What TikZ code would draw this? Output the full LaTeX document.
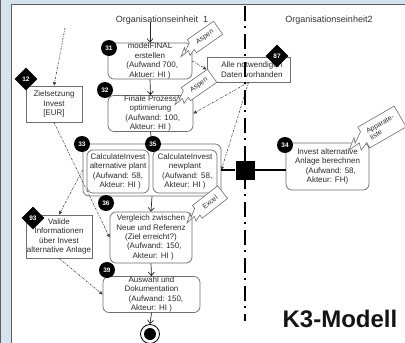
\documentclass[tikz,border=0pt]{standalone}
\usepackage{fontspec}
\setmainfont{Liberation Sans}
\usetikzlibrary{arrows.meta,shapes.geometric}
\definecolor{bgblue}{HTML}{D5E3EC}
\definecolor{txt}{HTML}{2B2B2B}
\definecolor{edge}{HTML}{6E6E6E}
\definecolor{frm}{HTML}{5A5F66}
\newcommand\mycallout[7]{% x y angle L h t text
  \begin{scope}[shift={(#1,#2)}, rotate=#3]
    \draw[callout] ({-#4/2},{-#5}) -- ({#4/2},{-#5}) -- ({#4/2},{#5}) -- ({-#4/2},{#5})
      -- ({-#4/2},{0.5*#5}) -- ({-#4/2-0.45*#6},{0.8*#5}) -- ({-#4/2-0.35*#6},{0.2*#5})
      -- ({-#4/2-#6},{0.3*#5}) -- ({-#4/2-0.45*#6},{-0.4*#5}) -- ({-#4/2-0.55*#6},{0.05*#5})
      -- ({-#4/2},{-0.55*#5}) -- cycle;
  \end{scope}
  \node[callouttext, rotate=#3] at (#1,#2) {#7};}
\begin{document}
\begin{tikzpicture}[x=1pt,y=-1pt,
  box/.style={draw=edge, line width=0.7pt, rounded corners=6pt, inner sep=0pt,
    font=\fontsize{8}{9.4}\selectfont, text=txt, align=center},
  plainbox/.style={draw=edge, line width=0.7pt, inner sep=0pt,
    font=\fontsize{8}{9.6}\selectfont, text=txt, align=center},
  badge/.style={circle, fill=black, minimum size=16pt, inner sep=0pt, text=white,
    font=\fontsize{6.5}{7}\selectfont\bfseries},
  dia/.style={diamond, fill=black, minimum width=23pt, minimum height=23pt, inner sep=0pt,
    text=white, font=\fontsize{6.5}{7}\selectfont\bfseries},
  flow/.style={draw=black!85, line width=0.7pt, -{Straight Barb[length=3.5pt,width=6pt]}},
  info/.style={draw=black!75, line width=0.6pt,
    dash pattern=on 2pt off 1.2pt on 0.6pt off 1.2pt, -{Triangle[length=3.5pt,width=3.2pt]}},
  callout/.style={draw=edge, fill=white, line width=0.6pt, line join=miter},
  callouttext/.style={font=\fontsize{7}{7.8}\selectfont, text=txt, align=left, inner sep=0pt},
  head/.style={font=\fontsize{9}{10}\selectfont, text=black!80, inner sep=0pt},
  lane/.style={draw=black, line width=2pt, dash pattern=on 15pt off 5pt on 2pt off 6pt}
]
\useasboundingbox (0,0) rectangle (405,343);
% frame
\fill[bgblue] (0,0) rectangle (405,343);
\fill[white] (12,5) rectangle (405,343);
\draw[frm, line width=1pt] (0.6,0) -- (0.6,343);
\draw[frm, line width=1.2pt] (11.4,4.4) -- (11.4,343);
\draw[frm, line width=1pt] (11.4,4.4) -- (405,4.4);

% headers
\node[head] (h1) at (162,20) {Organisationseinheit\ \ 1};
\node[head] (h2) at (329,20) {Organisationseinheit2};

% boxes
\node[box, minimum width=84pt, minimum height=36pt] (n31) at (150,61)
  {modelFINAL\\erstellen\\\ \ (Aufwand 700,\\Aktuer: HI )};
\node[box, minimum width=85pt, minimum height=36pt] (n32) at (150.5,113.5)
  {Finale Prozess\\optimierung\\\ \ (Aufwand: 100,\\Akteur: HI )};
\node[box, minimum width=138pt, minimum height=52pt] (grp) at (152,170) {};
\node[box, minimum width=62pt, minimum height=43pt] (n33) at (118,171.5)
  {CalculateInvest\\alternative plant\\(Aufwand: 58,\\\ \ Akteur: HI )};
\node[box, minimum width=64pt, minimum height=43pt] (n35) at (185,171.5)
  {CalculateInvest\\newplant\\\ \ (Aufwand: 58,\\Akteur: HI )};
\node[box, minimum width=82pt, minimum height=51pt] (n36) at (151,237.5)
  {Vergleich zwischen\\Neue und Referenz\\(Ziel erreicht?)\\\ \ \ (Aufwand: 150,\\\ \ Akteur: HI )};
\node[box, minimum width=97pt, minimum height=36pt] (n39) at (151.5,294.5)
  {Auswahl und\\Dokumentation\\\ \ \ \ (Aufwand: 150,\\Akteur: HI )};
\node[box, minimum width=83pt, minimum height=47pt] (n34) at (327.5,166.5)
  {Invest alternative\\Anlage berechnen\\\ \ \ (Aufwand: 58,\\Akteur: FH)};
\node[plainbox, minimum width=56pt, minimum height=36pt] (nZ) at (54,104)
  {Zielsetzung\\Invest\\{[EUR]}};
\node[plainbox, minimum width=66pt, minimum height=43pt] (nV) at (59,236.5)
  {Valide\\Informationen\\über Invest\\alternative Anlage};
\node[plainbox, minimum width=83pt, minimum height=25pt] (alle) at (248.5,69.5)
  {\ \ \ Alle notwendigen\\\ \ \ Daten vorhanden};

% end node
\node[circle, draw=black, line width=0.8pt, minimum size=19pt, inner sep=0pt] (end) at (150,334) {};
\fill[black] (end.center) circle (6pt);

% control flow
\coordinate (c1) at (150,22);
\draw[flow] (c1) -- (n31.north);
\draw[flow] (n31.south) -- (n32.north);
\draw[flow] (n32.south) -- (grp.north);
\draw[flow] (grp.south) -- (n36.north);
\draw[flow] (n36.south) -- (n39.north);
\draw[flow] (n39.south) -- (end.north);

% information flows
\coordinate (cz) at (65,28);
\draw[info] (cz) -- (nZ.north);
\draw[info] (nZ.south) -- (n36.west);
\draw[info] (grp.west) -- (nV.north);
\draw[info] (nV.south) -- (n39.west);
\draw[info] (n31.east) -- (alle.west);
\draw[info] (alle.south) -- (n32.east);
\draw[info] (alle.south) -- (grp.east);

% swim lane
\coordinate (l1) at (245,6);
\coordinate (l2) at (245,321);
\draw[lane] (l1) -- (l2);

% junction
\node[fill=black, minimum size=19pt, inner sep=0pt] (jn) at (245,170) {};
\draw[black, line width=1.6pt] (grp.east) -- (jn.west);
\draw[black, line width=1.6pt] (jn.east) -- (n34.west |- jn);

% callouts
\mycallout{205}{37}{35}{32}{8}{15}{Aspen}
\mycallout{199}{85}{35}{32}{8}{15}{Aspen}
\mycallout{210}{202}{38}{32}{8}{15}{Excel}
\mycallout{382}{127}{30}{42}{12}{19}{Apparate-\\liste}

% badges
\node[badge] (b31) at (109,48) {31};
\node[badge] (b32) at (105,90) {32};
\node[badge] (b33) at (82,144) {33};
\node[badge] (b35) at (153,144) {35};
\node[badge] (b36) at (106,203) {36};
\node[badge] (b39) at (107,270) {39};
\node[badge] (b34) at (285,145) {34};
\node[dia] (d12) at (26,79) {12};
\node[dia] (d87) at (277,56) {87};
\node[dia] (d93) at (33,218) {93};

% title
\node[font=\fontsize{24}{26}\selectfont\bfseries, text=black!92, inner sep=0pt] (title) at (340,319) {K3-Modell};
\end{tikzpicture}
\end{document}
